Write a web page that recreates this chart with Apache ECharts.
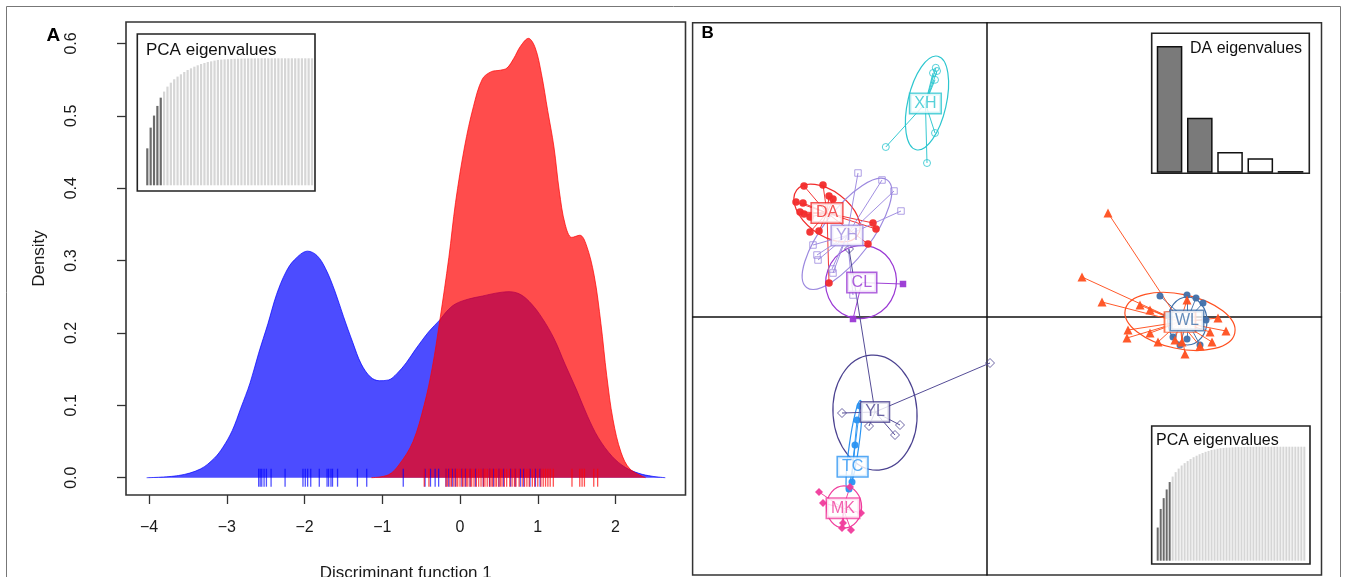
<!DOCTYPE html>
<html>
<head>
<meta charset="utf-8">
<title>DAPC</title>
<script src="https://cdn.jsdelivr.net/npm/echarts@6.0.0/dist/echarts.min.js"></script>
<style>
html,body{margin:0;padding:0;background:#ffffff;}
#chart{width:1360px;height:577px;}
</style>
</head>
<body>
<div id="chart"></div>
<script>
// ================= Panel A : density along discriminant function 1 =================
const xTicksA = [-4, -3, -2, -1, 0, 1, 2];
const yTicksA = [0, 0.1, 0.2, 0.3, 0.4, 0.5, 0.6];
const densityBlue = [[-4.03,0],[-3.62,0.003],[-3.34,0.012],[-3.16,0.027],[-3.05,0.042],[-2.93,0.065],[-2.82,0.096],[-2.70,0.131],[-2.59,0.172],[-2.47,0.213],[-2.36,0.253],[-2.24,0.284],[-2.13,0.301],[-1.96,0.313],[-1.84,0.307],[-1.73,0.289],[-1.61,0.258],[-1.50,0.223],[-1.38,0.187],[-1.27,0.157],[-1.15,0.139],[-1.04,0.134],[-0.92,0.135],[-0.81,0.144],[-0.69,0.159],[-0.575,0.177],[-0.40,0.202],[-0.26,0.218],[-0.17,0.230],[-0.06,0.240],[0.115,0.247],[0.29,0.251],[0.46,0.255],[0.63,0.257],[0.78,0.253],[0.92,0.240],[1.06,0.220],[1.21,0.192],[1.35,0.157],[1.50,0.121],[1.64,0.085],[1.78,0.055],[1.96,0.029],[2.13,0.014],[2.30,0.006],[2.47,0.002],[2.64,0]];
const densityRed = [[-1.139,0],[-0.92,0.004],[-0.777,0.019],[-0.604,0.050],[-0.460,0.101],[-0.357,0.152],[-0.259,0.218],[-0.144,0.304],[-0.058,0.380],[0.058,0.457],[0.173,0.513],[0.288,0.551],[0.403,0.561],[0.518,0.563],[0.604,0.566],[0.690,0.579],[0.777,0.596],[0.880,0.607],[0.967,0.594],[1.047,0.558],[1.128,0.507],[1.208,0.457],[1.277,0.396],[1.352,0.350],[1.438,0.332],[1.542,0.335],[1.623,0.322],[1.726,0.279],[1.812,0.213],[1.887,0.141],[1.968,0.080],[2.071,0.035],[2.186,0.012],[2.388,0]];
const rugBlue = [-2.59,-2.57,-2.55,-2.52,-2.49,-2.43,-2.25,-2.02,-1.99,-1.96,-1.92,-1.81,-1.71,-1.69,-1.66,-1.64,-1.575,-1.32,-1.20,-0.73,-0.45,-0.38,-0.32,-0.275,-0.18,-0.145,-0.10,-0.06,0.025,0.07,0.13,0.20,0.30,0.38,0.43,0.50,0.56,0.65,0.71,0.775,0.82,0.90,0.97,1.03];
const rugRed = [-0.46,-0.40,-0.18,-0.16,-0.13,-0.11,-0.08,-0.05,-0.03,0.00,0.03,0.05,0.08,0.10,0.13,0.15,0.18,0.21,0.24,0.27,0.30,0.32,0.35,0.38,0.40,0.42,0.45,0.47,0.50,0.52,0.54,0.57,0.60,0.64,0.67,0.70,0.72,0.76,0.80,0.83,0.86,0.89,0.93,0.96,1.00,1.04,1.07,1.10,1.13,1.16,1.20,1.44,1.54,1.57,1.60,1.72,1.77];

// Inset eigenvalues
const pcaEigen = [29.1,45.4,54.9,62.5,69.0,73.8,77.7,80.8,83.5,85.6,87.4,89.2,90.8,92.1,93.4,94.5,95.5,96.3,97.1,97.6,98.2,98.7,99.0,99.2,99.3,99.5,99.6,99.7,99.8,99.8,99.9,99.9,99.9,100,100,100,100,100,100,100,100,100,100,100,100,100,100,100,100,100];
const pcaRetained = 5;
const daEigen = [100, 43.4, 16.3, 11.4, 1.3];
const daRetained = 2;

// ================= Panel B : scatter on discriminant functions 1 and 2 =================
const groupNames = ['XH','DA','YH','CL','YL','TC','MK','WL',''];
const centroidX = [-1.54,-4.0,-3.5,-3.13,-2.8,-3.36,-3.6,5.0,4.825];
const centroidY = [5.34,2.6,2.04,0.86,-2.375,-3.745,-4.78,-0.0875,-0.125];
const pointsXH = [[-2.53,4.25],[-1.5,3.85],[-1.3,4.6],[-1.35,6.1],[-1.28,6.23],[-1.3,5.93],[-1.25,6.15]];
const pointsDA = [[-4.575,3.275],[-4.1,3.3],[-3.95,3.025],[-3.85,2.95],[-4.775,2.875],[-4.6,2.85],[-4.675,2.625],[-4.575,2.575],[-4.425,2.5],[-4.2,2.15],[-4.425,2.125],[-2.85,2.35],[-2.775,2.2],[-2.975,1.825],[-3.95,0.85]];
const pointsYH = [[-3.225,3.6],[-2.625,3.425],[-2.325,3.15],[-2.15,2.65],[-4.35,1.8],[-4.25,1.55],[-4.225,1.425],[-3.875,1.2],[-3.85,1.1],[-3.35,0.55]];
const pointsCL = [[-2.1,0.825],[-3.35,-0.05]];
const pointsYL = [[-3.625,-2.4],[0.075,-1.15],[-2.175,-2.7],[-2.3,-2.95],[-2.95,-2.725],[-3.45,1.7]];
const pointsTC = [[-3.175,-2.225],[-3.25,-2.575],[-3.3,-3.2],[-3.375,-4.125],[-3.45,-4.3]];
const pointsMK = [[-4.2,-4.375],[-4.1,-4.65],[-3.425,-4.25],[-3.15,-4.9],[-3.6,-5.15],[-3.625,-5.275],[-3.4,-5.325]];
const pointsWL = [[4.325,0.525],[5.0,0.55],[5.4,0.35],[5.225,0.475],[4.65,-0.5],[5.0,-0.55],[5.325,-0.7],[5.475,-0.075],[4.5,0.05],[4.825,-0.7]];
const pointsOR = [[3.025,2.6],[2.375,1.0],[2.875,0.375],[3.825,0.3],[4.075,0.175],[3.525,-0.325],[3.5,-0.525],[4.075,-0.4],[4.275,-0.625],[4.7,-0.575],[4.95,-0.925],[5.625,-0.625],[5.575,-0.375],[5.775,-0.025],[5.0,0.425],[4.875,-0.625],[5.325,-0.725],[5.975,-0.35]];
const groupPoints = [pointsXH,pointsDA,pointsYH,pointsCL,pointsYL,pointsTC,pointsMK,pointsWL,pointsOR];
// inertia ellipses: centre x, centre y, semi-axis a, semi-axis b, angle (deg)
const ellipseCX = [-1.5,-4.0,-3.5,-3.15,-2.8,-3.325,-3.575,5.01,4.825];
const ellipseCY = [5.35,2.6,2.08,0.875,-2.39,-3.225,-4.75,-0.1,-0.11];
const ellipseA = [1.2,0.95,1.68,0.92,1.44,1.15,0.53,0.6,1.4];
const ellipseB = [0.48,0.55,0.6,0.88,1.05,0.12,0.44,0.49,0.68];
const ellipseAngle = [77,-37,53,70,94,82,90,90,-12];

// ================= Styles =================
const FONT = '"Liberation Sans", Arial, Helvetica, sans-serif';
const groupColors = ['#2CC6CF','#F22B2B','#9C89DF','#9A38D4','#4B4290','#2A93F2','#F03C9C','#4070AA','#FF5020'];
const groupSymbols = ['circle','circle','rect','rect','diamond','circle','diamond','circle','triangle'];
const groupHollow = [true,false,true,false,true,false,false,false,false];
const groupSymSize = [7,7.5,6.5,6.5,9,7,8,7,9];

const chart = echarts.init(document.getElementById('chart'), null, {renderer: 'canvas'});

const minusFmt = v => (v < 0 ? '\u2212' + Math.abs(v) : String(v));

// ---- star segments ----
const segData = [];
groupPoints.forEach((pts, gi) => {
  pts.forEach(p => {
    segData.push({coords: [[centroidX[gi], centroidY[gi]], p], lineStyle: {color: groupColors[gi]}});
  });
});

const pointSeries = groupPoints.map((pts, gi) => ({
  type: 'scatter', xAxisIndex: 2, yAxisIndex: 2, z: 4, silent: true,
  symbol: groupSymbols[gi], symbolSize: groupSymSize[gi],
  itemStyle: groupHollow[gi]
    ? {color: 'rgba(255,255,255,0)', borderColor: groupColors[gi], borderWidth: 1}
    : {color: groupColors[gi], opacity: 0.95},
  data: pts
}));

const ellipseData = ellipseCX.map((cx, i) => [cx, ellipseCY[i], ellipseA[i], ellipseB[i], ellipseAngle[i], i]);

const labelData = [];
groupNames.forEach((n, gi) => {
  if (n) labelData.push({value: [centroidX[gi], centroidY[gi]], name: n,
    label: {color: groupColors[gi], borderColor: groupColors[gi]}});
});
const hiddenBoxIdx = 8;

const gridBase = {show: true, outerBoundsMode: 'none', containLabel: false};

const option = {
  animation: false,
  backgroundColor: '#ffffff',
  textStyle: {fontFamily: FONT},
  grid: [
    Object.assign({left: 126, top: 22, width: 559.5, height: 473, borderColor: '#333', borderWidth: 1.6, backgroundColor: 'rgba(0,0,0,0)'}, gridBase),
    Object.assign({left: 137.3, top: 34, width: 177.7, height: 157, borderColor: '#222', borderWidth: 1.6, backgroundColor: '#fff'}, gridBase),
    Object.assign({left: 692.6, top: 22.7, width: 628.9, height: 552.3, borderColor: '#333', borderWidth: 1.5, backgroundColor: 'rgba(0,0,0,0)'}, gridBase),
    Object.assign({left: 1151.7, top: 33.3, width: 157.6, height: 140, borderColor: '#222', borderWidth: 1.6, backgroundColor: '#fff'}, gridBase),
    Object.assign({left: 1151.7, top: 426, width: 158.3, height: 138, borderColor: '#222', borderWidth: 1.6, backgroundColor: '#fff'}, gridBase)
  ],
  xAxis: [
    {type: 'value', gridIndex: 0, min: -4.296, max: 2.90,
     axisLine: {show: false, onZero: false}, splitLine: {show: false},
     axisTick: {show: true, length: 9, lineStyle: {color: '#333', width: 1.3}, customValues: xTicksA},
     axisLabel: {customValues: xTicksA, formatter: minusFmt, margin: 25, fontSize: 16, color: '#1a1a1a', fontFamily: FONT},
     name: 'Discriminant function 1', nameLocation: 'middle', nameGap: 70,
     nameTextStyle: {fontSize: 17, color: '#1a1a1a', fontFamily: FONT}},
    {type: 'value', gridIndex: 1, min: -1.975, max: 50.89, show: false},
    {type: 'value', gridIndex: 2, min: -7.36, max: 8.3625,
     axisLine: {show: true, onZero: true, lineStyle: {color: '#111', width: 1.5}},
     axisTick: {show: false}, axisLabel: {show: false}, splitLine: {show: false}},
    {type: 'value', gridIndex: 3, min: 0.41, max: 5.62, show: false},
    {type: 'value', gridIndex: 4, min: -1.005, max: 51.9, show: false}
  ],
  yAxis: [
    {type: 'value', gridIndex: 0, min: -0.0239, max: 0.6296,
     axisLine: {show: false, onZero: false}, splitLine: {show: false},
     axisTick: {show: true, length: 9, lineStyle: {color: '#333', width: 1.3}, customValues: yTicksA},
     axisLabel: {customValues: yTicksA, formatter: v => v.toFixed(1), rotate: 90, margin: 46, fontSize: 16, color: '#1a1a1a', fontFamily: FONT},
     name: 'Density', nameLocation: 'middle', nameGap: 78,
     nameTextStyle: {fontSize: 17, color: '#1a1a1a', fontFamily: FONT}},
    {type: 'value', gridIndex: 1, min: -4.49, max: 119.13, show: false},
    {type: 'value', gridIndex: 2, min: -6.45, max: 7.3575,
     axisLine: {show: true, onZero: true, lineStyle: {color: '#111', width: 1.5}},
     axisTick: {show: false}, axisLabel: {show: false}, splitLine: {show: false}},
    {type: 'value', gridIndex: 3, min: -0.47, max: 110, show: false},
    {type: 'value', gridIndex: 4, min: -2.89, max: 118.16, show: false}
  ],
  graphic: [
    {type: 'rect', silent: true, z: -10, shape: {x: 6.5, y: 6.5, width: 1334, height: 640},
     style: {fill: 'none', stroke: '#777', lineWidth: 1}},
    {type: 'text', silent: true, z: 100, x: 46.5, y: 36,
     style: {text: 'A', font: 'bold 19px ' + FONT, fill: '#000', align: 'left', verticalAlign: 'middle'}},
    {type: 'text', silent: true, z: 100, x: 701.5, y: 33.5,
     style: {text: 'B', font: 'bold 17px ' + FONT, fill: '#000', align: 'left', verticalAlign: 'middle'}},
    {type: 'text', silent: true, z: 100, x: 146, y: 50.3,
     style: {text: 'PCA eigenvalues', font: '17px ' + FONT, fill: '#111', align: 'left', verticalAlign: 'middle'}},
    {type: 'text', silent: true, z: 100, x: 1190, y: 48.4,
     style: {text: 'DA eigenvalues', font: '16px ' + FONT, fill: '#111', align: 'left', verticalAlign: 'middle'}},
    {type: 'text', silent: true, z: 100, x: 1156, y: 440.6,
     style: {text: 'PCA eigenvalues', font: '16px ' + FONT, fill: '#111', align: 'left', verticalAlign: 'middle'}}
  ],
  series: [
    // Panel A densities
    {type: 'line', xAxisIndex: 0, yAxisIndex: 0, z: 2, silent: true, data: densityBlue,
     smooth: 0.35, symbol: 'none',
     lineStyle: {color: 'rgba(0,0,255,0.7)', width: 1},
     areaStyle: {color: '#0000FF', opacity: 0.7}},
    {type: 'line', xAxisIndex: 0, yAxisIndex: 0, z: 3, silent: true, data: densityRed,
     smooth: 0.35, symbol: 'none',
     lineStyle: {color: 'rgba(255,0,0,0.7)', width: 1},
     areaStyle: {color: '#FF0000', opacity: 0.7}},
    {type: 'scatter', xAxisIndex: 0, yAxisIndex: 0, z: 4, silent: true,
     symbol: 'rect', symbolSize: [1.3, 18], itemStyle: {color: 'rgba(0,0,255,0.85)'},
     data: rugBlue.map(v => [v, 0])},
    {type: 'scatter', xAxisIndex: 0, yAxisIndex: 0, z: 5, silent: true,
     symbol: 'rect', symbolSize: [1.3, 18], itemStyle: {color: 'rgba(255,0,0,0.85)'},
     data: rugRed.map(v => [v, 0])},
    // Panel A inset: PCA eigenvalues
    {type: 'bar', xAxisIndex: 1, yAxisIndex: 1, silent: true, barWidth: 2.2,
     data: pcaEigen.map((v, i) => ({value: [i + 1, v], itemStyle: {color: i < pcaRetained ? '#6B6B6B' : '#D6D6D6'}}))},
    // Panel B ellipses
    {type: 'custom', xAxisIndex: 2, yAxisIndex: 2, z: 2, silent: true, data: ellipseData,
     renderItem: function (params, api) {
       const c = api.coord([api.value(0), api.value(1)]);
       const s = api.size([api.value(2), api.value(3)]);
       return {type: 'ellipse', x: c[0], y: c[1], rotation: api.value(4) * Math.PI / 180,
         shape: {cx: 0, cy: 0, rx: s[0], ry: s[1]},
         style: {fill: 'none', stroke: groupColors[api.value(5)], lineWidth: 1.2}};
     }},
    // Panel B star segments
    {type: 'lines', coordinateSystem: 'cartesian2d', xAxisIndex: 2, yAxisIndex: 2, z: 3, silent: true,
     lineStyle: {width: 1, opacity: 0.95}, data: segData},
    ...pointSeries,
    // hidden group's label box (covered by WL)
    {type: 'scatter', xAxisIndex: 2, yAxisIndex: 2, z: 9, silent: true,
     symbol: 'rect', symbolSize: [31, 20.5],
     itemStyle: {color: '#fff', borderColor: groupColors[hiddenBoxIdx], borderWidth: 1.5},
     data: [[centroidX[hiddenBoxIdx], centroidY[hiddenBoxIdx]]]},
    // Panel B group labels
    {type: 'scatter', xAxisIndex: 2, yAxisIndex: 2, z: 10, silent: true, symbolSize: 0,
     label: {show: true, position: 'inside', formatter: '{b}', backgroundColor: '#fff',
       borderWidth: 1.5, padding: [2, 4, 1, 4], fontSize: 16, fontFamily: FONT},
     data: labelData},
    // Panel B inset: DA eigenvalues
    {type: 'bar', xAxisIndex: 3, yAxisIndex: 3, silent: true, barWidth: 25.6,
     data: daEigen.map((v, i) => ({value: [i + 1, v],
       itemStyle: {color: i < daRetained ? '#7A7A7A' : '#FFFFFF', borderColor: '#111', borderWidth: 1.5}}))},
    // Panel B inset: PCA eigenvalues
    {type: 'bar', xAxisIndex: 4, yAxisIndex: 4, silent: true, barWidth: 2,
     data: pcaEigen.map((v, i) => ({value: [i + 1, v], itemStyle: {color: i < pcaRetained ? '#6B6B6B' : '#D6D6D6'}}))}
  ]
};
chart.setOption(option);
</script>
</body>
</html>
